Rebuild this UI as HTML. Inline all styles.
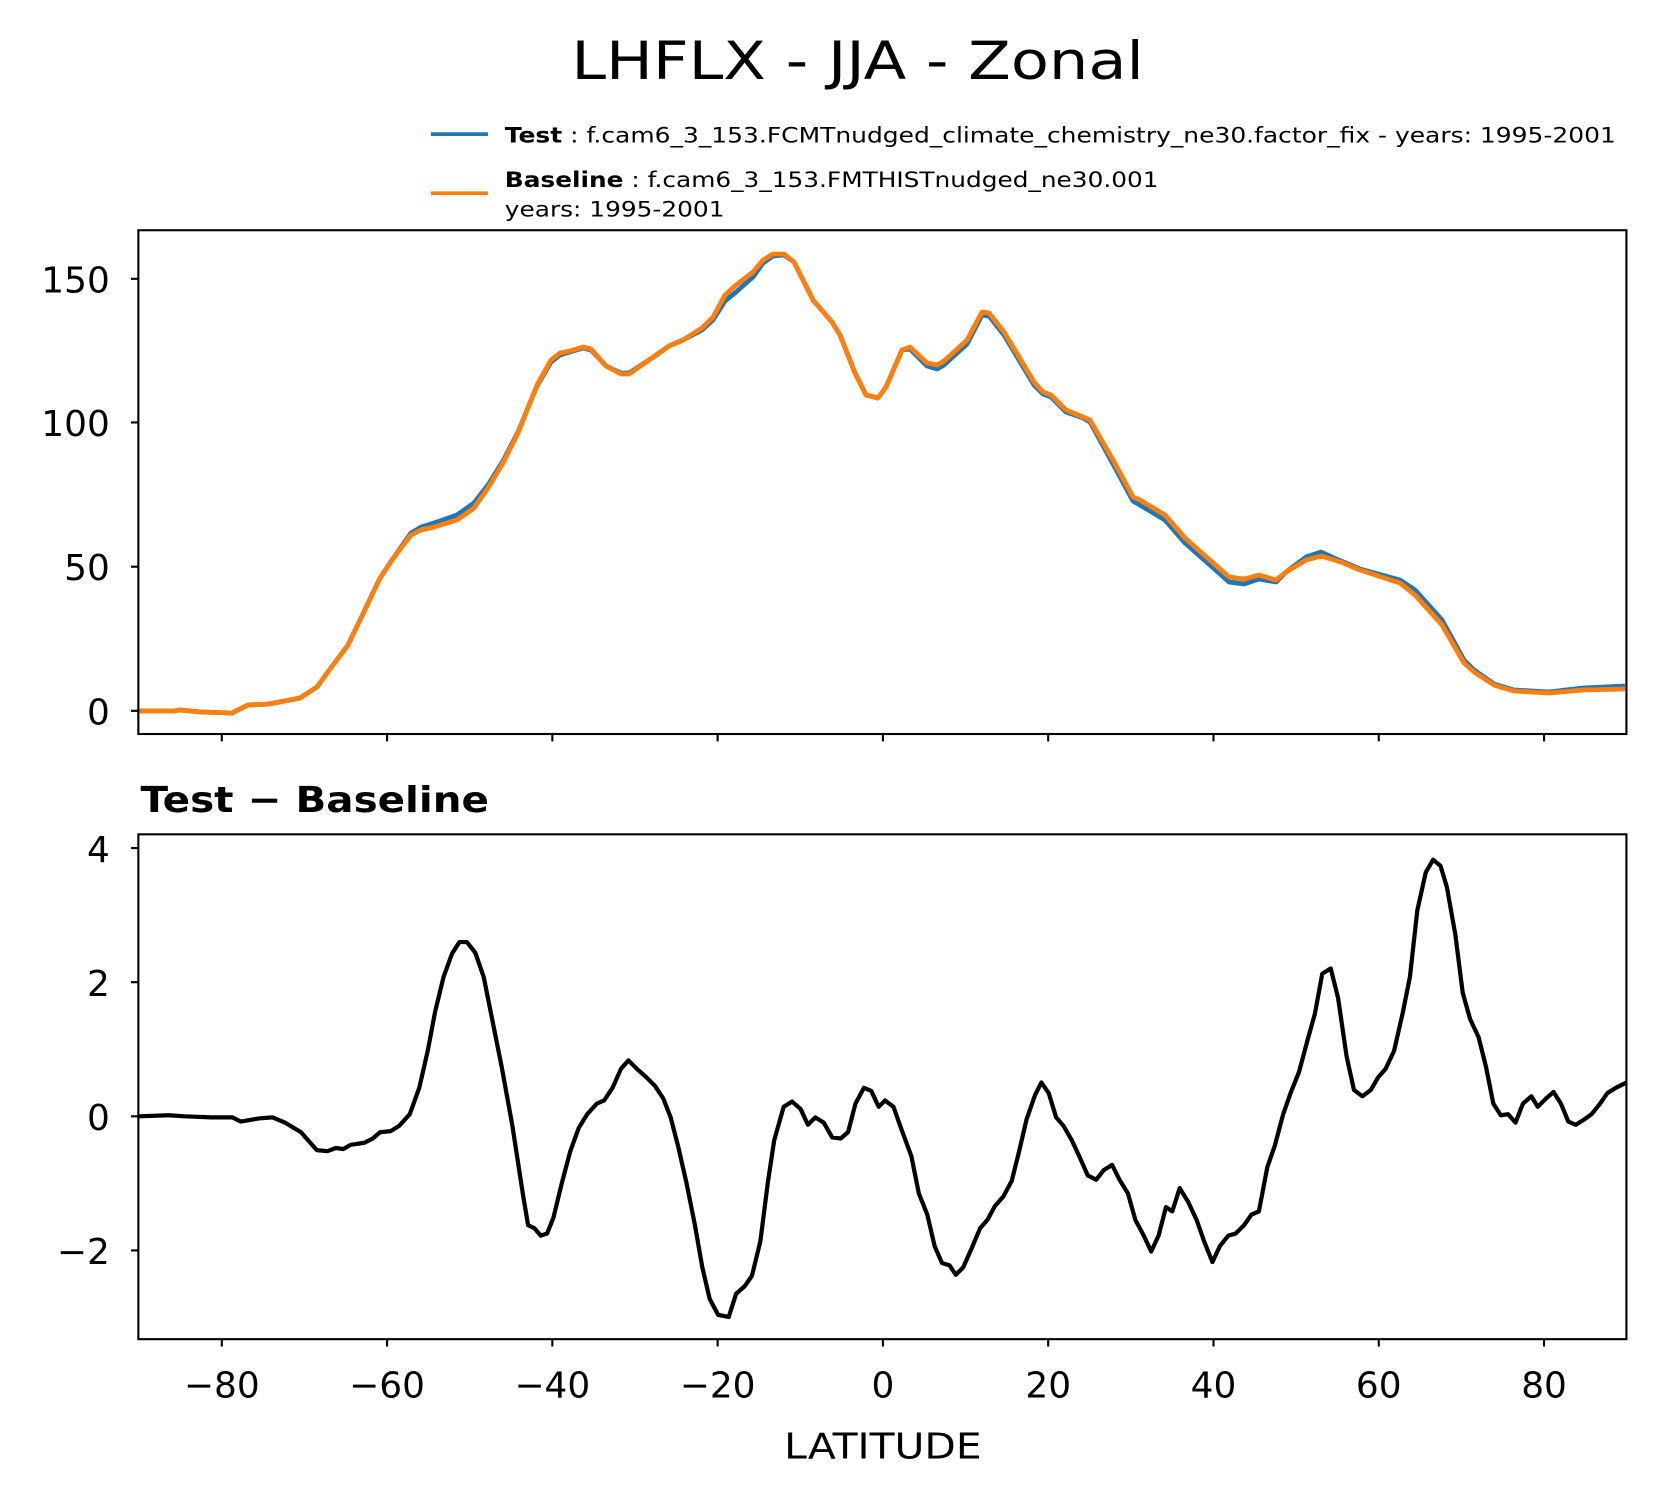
<!DOCTYPE html>
<html><head><meta charset="utf-8"><style>html,body{margin:0;padding:0;background:#fff}svg{display:block}</style></head>
<body>
<svg width="1656" height="1496" viewBox="0 0 1568 1416.5" preserveAspectRatio="none" xmlns="http://www.w3.org/2000/svg" font-family="'DejaVu Sans','Liberation Sans',sans-serif">
<rect width="1568" height="1417" fill="#fff"/>
<text x="812" y="75" font-size="50" text-anchor="middle" textLength="542" lengthAdjust="spacingAndGlyphs">LHFLX - JJA - Zonal</text>
<line x1="408" y1="127" x2="462" y2="127" stroke="#1f77b4" stroke-width="3.5"/>
<text x="478" y="135" font-size="20" textLength="1052" lengthAdjust="spacingAndGlyphs"><tspan font-weight="bold">Test</tspan> : f.cam6_3_153.FCMTnudged_climate_chemistry_ne30.factor_fix - years: 1995-2001</text>
<line x1="408" y1="183" x2="462" y2="183" stroke="#ff7f0e" stroke-width="3.5"/>
<text x="478" y="177" font-size="20" textLength="619" lengthAdjust="spacingAndGlyphs"><tspan font-weight="bold">Baseline</tspan> : f.cam6_3_153.FMTHISTnudged_ne30.001</text>
<text x="478" y="205" font-size="20" textLength="208" lengthAdjust="spacingAndGlyphs">years: 1995-2001</text>

<defs><clipPath id="c1"><rect x="131" y="218" width="1409" height="477"/></clipPath><clipPath id="c2"><rect x="131" y="790" width="1409" height="478"/></clipPath></defs>
<g clip-path="url(#c1)">
<g transform="scale(0.94688)" fill="none" stroke-linejoin="round">
<polyline stroke="#1f77b4" stroke-width="4.8" points="138,711 160,711 174,711 180,710 201,712 232,713 248,705 269,704 290,700 300,698 317,687 333,665 348,645 361,618 380,578 392,560 411,533 421,527 434,523 457,515 474,503 488,485 503,461 518,432 537,386 551,362 560,355 570,352 583,348 591,350 606,366 621,373 629,373 652,358 669,346 683,340 702,330 713,320 725,301 736,292 753,277 763,263 773,256 784,255 794,262 813,300 832,322 840,335 855,373 866,395 878,398 886,387 902,350 910,349 927,366 937,369 944,365 967,344 982,315 989,316 1004,335 1034,385 1043,394 1051,397 1066,412 1083,418 1090,422 1113,464 1133,501 1140,505 1165,520 1185,543 1229,582 1244,584 1259,579 1276,582 1286,572 1306,557 1321,552 1341,561 1360,569 1400,580 1415,590 1442,620 1464,660 1474,670 1494,684 1514,690 1549,692 1583,688 1625,686"/>
<polyline stroke="#ff7f0e" stroke-width="4.8" points="138,711 160,711 174,711 180,710 201,712 232,713 248,705 269,704 290,700 300,698 317,687 333,665 348,645 361,618 380,578 392,560 411,535 421,530 434,527 457,520 474,508 488,488 503,463 518,433 537,385 551,360 560,353 570,351 583,347 591,349 606,366 621,374 629,374 652,358 669,346 683,340 702,328 713,317 725,295 736,285 753,272 763,260 773,254 784,254 794,262 813,300 832,322 840,335 855,373 866,395 878,398 886,387 902,350 910,347 927,363 937,365 944,361 967,340 982,312 989,313 1004,332 1034,382 1043,392 1051,395 1066,410 1083,417 1090,420 1113,460 1133,497 1140,500 1165,515 1185,538 1229,577 1244,579 1259,575 1276,580 1286,572 1306,560 1321,556 1341,562 1360,570 1400,583 1415,595 1442,625 1464,663 1474,672 1494,685 1514,691 1549,693 1583,690 1625,689"/>
</g></g>
<g clip-path="url(#c2)" fill="none" stroke-linejoin="round">
<polyline stroke="#000" stroke-width="4" points="131,1057 160,1056 175,1057 200,1058 220,1058 228,1062 245,1059 258,1058 270,1063 285,1072 292,1080 300,1089 310,1090 318,1087 325,1088 332,1084 345,1082 353,1078 360,1072 370,1071 378,1066 388,1055 397,1030 405,995 412,958 420,925 428,903 435,892 442,892 450,902 458,925 465,960 475,1010 485,1065 495,1130 500,1160 506,1163 512,1170 518,1168 524,1153 532,1120 540,1090 548,1068 556,1055 565,1045 572,1042 580,1030 588,1012 595,1004 603,1012 612,1020 620,1028 628,1040 635,1058 642,1085 650,1120 658,1160 665,1200 672,1230 680,1245 690,1247 697,1225 705,1218 712,1208 720,1175 727,1120 733,1080 742,1048 750,1043 758,1050 765,1065 772,1058 780,1063 788,1077 796,1078 803,1072 810,1045 818,1030 825,1033 832,1048 838,1042 846,1048 852,1065 863,1095 870,1130 878,1150 885,1180 892,1196 899,1198 905,1207 912,1200 920,1182 928,1163 935,1155 942,1142 950,1133 958,1118 965,1090 972,1060 980,1037 986,1025 993,1035 1000,1058 1007,1066 1015,1080 1022,1095 1030,1113 1038,1117 1045,1108 1053,1103 1060,1117 1068,1130 1075,1155 1083,1170 1090,1185 1097,1170 1104,1143 1110,1147 1117,1125 1125,1138 1133,1155 1140,1175 1148,1195 1155,1180 1163,1170 1170,1168 1178,1160 1185,1150 1192,1147 1200,1105 1207,1085 1215,1055 1222,1035 1230,1015 1238,985 1245,960 1252,922 1260,917 1267,945 1275,1000 1282,1032 1290,1038 1298,1032 1305,1020 1312,1012 1320,995 1328,960 1335,925 1342,862 1350,826 1357,814 1364,820 1370,840 1378,885 1385,940 1392,965 1400,982 1407,1010 1414,1045 1421,1056 1428,1055 1435,1063 1442,1045 1450,1038 1456,1048 1464,1040 1471,1034 1478,1045 1485,1062 1492,1065 1500,1060 1507,1055 1515,1045 1522,1035 1530,1030 1540,1025"/>
</g>
<g fill="none" stroke="#000" stroke-width="2">
<rect x="131" y="218" width="1409" height="477"/>
<rect x="131" y="790" width="1409" height="478"/>
<path d="M124,673H131M124,536.6H131M124,400H131M124,264H131M124,1184H131M124,1057H131M124,930H131M124,803H131"/>
<path d="M210,695v7M366.5,695v7M523,695v7M679.5,695v7M836,695v7M992.5,695v7M1149,695v7M1305.5,695v7M1462,695v7"/>
<path d="M210,1268v7M366.5,1268v7M523,1268v7M679.5,1268v7M836,1268v7M992.5,1268v7M1149,1268v7M1305.5,1268v7M1462,1268v7"/>
</g>
<g font-size="34" text-anchor="end">
<text x="104" y="686">0</text><text x="104" y="549">50</text><text x="104" y="413">100</text><text x="104" y="277">150</text>
<text x="104" y="816">4</text><text x="104" y="943">2</text><text x="104" y="1070">0</text><text x="104" y="1197">−2</text>
</g>
<g font-size="34" text-anchor="middle">
<text x="210" y="1323">−80</text><text x="366.5" y="1323">−60</text><text x="523" y="1323">−40</text><text x="679.5" y="1323">−20</text><text x="836" y="1323">0</text><text x="992.5" y="1323">20</text><text x="1149" y="1323">40</text><text x="1305.5" y="1323">60</text><text x="1462" y="1323">80</text>
<text x="836" y="1381" textLength="187" lengthAdjust="spacingAndGlyphs">LATITUDE</text>
</g>
<text x="133" y="769" font-size="34" font-weight="bold" textLength="330" lengthAdjust="spacingAndGlyphs">Test − Baseline</text>
</svg>
</body></html>
